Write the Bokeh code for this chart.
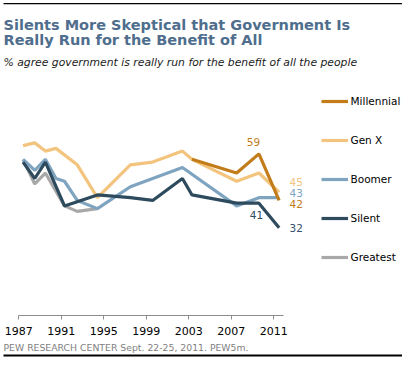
from bokeh.plotting import figure
from bokeh.models import (Range1d, FixedTicker, Label, Legend, LegendItem, BoxAnnotation,
                          ColumnDataSource, Title, LinearAxis)
from bokeh.embed import file_html
from bokeh.resources import INLINE

FONT = "DejaVu Sans"

title_lines = ["Silents More Skeptical that Government Is",
               "Really Run for the Benefit of All"]
subtitle = "% agree government is really run for the benefit of all the people"
source_note = "PEW RESEARCH  CENTER Sept. 22-25, 2011. PEW5m."
tick_years = [1987, 1991, 1995, 1999, 2003, 2007, 2011]

series_names = ["Millennial", "Gen X", "Boomer", "Silent", "Greatest"]

millennial_years = [2003.3, 2007.5, 2009.6, 2011.5]
millennial_vals = [57, 52, 59, 42]

genx_years = [1987.4, 1988.5, 1989.5, 1990.5, 1992.5, 1994.4, 1997.5, 1999.6,
              2002.4, 2003.3, 2007.5, 2009.6, 2011.5]
genx_vals = [62, 63, 60, 61, 55, 43, 55, 56, 60, 57, 49, 52, 45]

boomer_years = [1987.4, 1988.5, 1989.5, 1990.5, 1991.3, 1992.5, 1994.4, 1997.5,
                1999.6, 2002.4, 2007.5, 2009.6, 2011.5]
boomer_vals = [57, 53, 57, 50, 49, 42, 39, 47, 50, 54, 40, 43, 43]

silent_years = [1987.4, 1988.5, 1989.5, 1991.3, 1994.4, 1997.5, 1999.6, 2002.4,
                2003.3, 2007.5, 2009.6, 2011.5]
silent_vals = [56, 50, 56, 40, 44, 43, 42, 50, 44, 41, 41, 32]

greatest_years = [1987.4, 1988.5, 1989.5, 1991.3, 1992.5, 1994.4]
greatest_vals = [57, 48, 52, 40, 38, 39]

colors = {
    "Millennial": "#c27c1a",
    "Gen X": "#f3c47e",
    "Boomer": "#7fa4c0",
    "Silent": "#2e4b5e",
    "Greatest": "#a8a8a8",
}

data = {
    "Millennial": (millennial_years, millennial_vals),
    "Gen X": (genx_years, genx_vals),
    "Boomer": (boomer_years, boomer_vals),
    "Silent": (silent_years, silent_vals),
    "Greatest": (greatest_years, greatest_vals),
}

# pixel scale: 10.625 px per year, 1987 at x=18.3; 2.74 px per point, 0 at y=315
X0, X1 = 1987 - 18.3 / 10.625, 1987 + (402 - 18.3) / 10.625
p = figure(width=402, height=360, title=None, toolbar_location=None,
           output_backend="svg", y_axis_location=None,
           x_range=Range1d(X0, X1), y_range=Range1d(0, 315 / 2.74),
           min_border_left=0, min_border_right=0,
           min_border_top=0, min_border_bottom=45)
p.outline_line_color = None
p.xgrid.visible = False
p.ygrid.visible = False
p.background_fill_color = "white"
p.border_fill_color = "white"

ax = p.xaxis[0]
ax.ticker = FixedTicker(ticks=tick_years)
ax.bounds = (1987, 1987 + (283 - 18.3) / 10.625)
ax.axis_line_color = "#8c8c8c"
ax.major_tick_line_color = "#8c8c8c"
ax.major_tick_out = 4
ax.major_tick_in = 0
ax.minor_tick_line_color = None
ax.major_label_text_font = FONT
ax.major_label_text_font_size = "11px"
ax.major_label_text_color = "#000000"
ax.major_label_standoff = 7

renderers = {}
for name in ["Greatest", "Gen X", "Boomer", "Silent", "Millennial"]:
    xs, ys = data[name]
    src = ColumnDataSource(dict(x=xs, y=ys))
    renderers[name] = p.line("x", "y", source=src, line_color=colors[name],
                             line_width=3.2)

legend = Legend(items=[LegendItem(label=n, renderers=[renderers[n]]) for n in series_names],
                location=(320.5, 48), orientation="vertical",
                glyph_width=27, glyph_height=20, label_height=20, spacing=19,
                padding=0, margin=0, label_standoff=3,
                border_line_color=None, background_fill_alpha=0,
                label_text_font=FONT, label_text_font_size="10.5px",
                label_text_color="#000000")
p.add_layout(legend)

# end-value labels
end_offsets = {"Gen X": 10, "Boomer": 4.5, "Millennial": -4, "Silent": -0.5}
label_colors = {"Gen X": "#f3c47e", "Boomer": "#7fa4c0", "Millennial": "#c27c1a",
                "Silent": "#34506b"}
for name, yoff in end_offsets.items():
    xs, ys = data[name]
    p.add_layout(Label(x=xs[-1], y=ys[-1], text=str(ys[-1]), x_offset=10.5,
                       y_offset=yoff, text_baseline="middle", text_align="left",
                       text_font=FONT, text_font_size="10.5px",
                       text_color=label_colors[name]))

# annotated values: Millennial peak and Silent 2009
p.add_layout(Label(x=millennial_years[2], y=millennial_vals[2], text=str(millennial_vals[2]),
                   x_offset=-5.5, y_offset=11.5, text_align="center", text_baseline="middle",
                   text_font=FONT, text_font_size="10.5px", text_color=colors["Millennial"]))
p.add_layout(Label(x=silent_years[-2], y=silent_vals[-2], text=str(silent_vals[-2]),
                   x_offset=-2.5, y_offset=-11.5, text_align="center", text_baseline="middle",
                   text_font=FONT, text_font_size="10.5px", text_color=colors["Silent"]))

# titles (screen units relative to frame bottom-left; frame bottom at y=315)
p.add_layout(Label(x=3, y=291, x_units="screen", y_units="screen", text=title_lines[0],
                   text_font=FONT, text_font_size="14.5px", text_font_style="bold",
                   text_color="#4f6e8d", text_baseline="alphabetic"))
p.add_layout(Label(x=3, y=276, x_units="screen", y_units="screen", text=title_lines[1],
                   text_font=FONT, text_font_size="14.5px", text_font_style="bold",
                   text_color="#4f6e8d", text_baseline="alphabetic"))
p.add_layout(Label(x=3, y=253, x_units="screen", y_units="screen", text=subtitle,
                   text_font=FONT, text_font_size="10.8px", text_font_style="italic",
                   text_color="#1a1a1a", text_baseline="alphabetic"))

# top rule
p.add_layout(BoxAnnotation(left=3, right=402, top=312.4, bottom=311.2,
                           left_units="screen", right_units="screen",
                           top_units="screen", bottom_units="screen",
                           fill_color="black", fill_alpha=1, line_color=None))

# source note and bottom rule below the axis
p.add_layout(Title(text=source_note, align="left", offset=3, standoff=5,
                   text_font=FONT, text_font_size="9.3px", text_font_style="normal",
                   text_color="#7f7f7f"), "below")
rule = LinearAxis(ticker=FixedTicker(ticks=[2000]), axis_line_color="black",
                  axis_line_width=2, major_tick_line_color=None, major_tick_out=0,
                  major_tick_in=0, minor_tick_out=0, minor_tick_in=0,
                  minor_tick_line_color=None, major_label_overrides={2000: ""},
                  major_label_text_font_size="0px", major_label_standoff=0,
                  bounds=(X0 + 3 / 10.625, X1))
p.add_layout(rule, "below")

open("out.html", "w").write(file_html(p, INLINE))
